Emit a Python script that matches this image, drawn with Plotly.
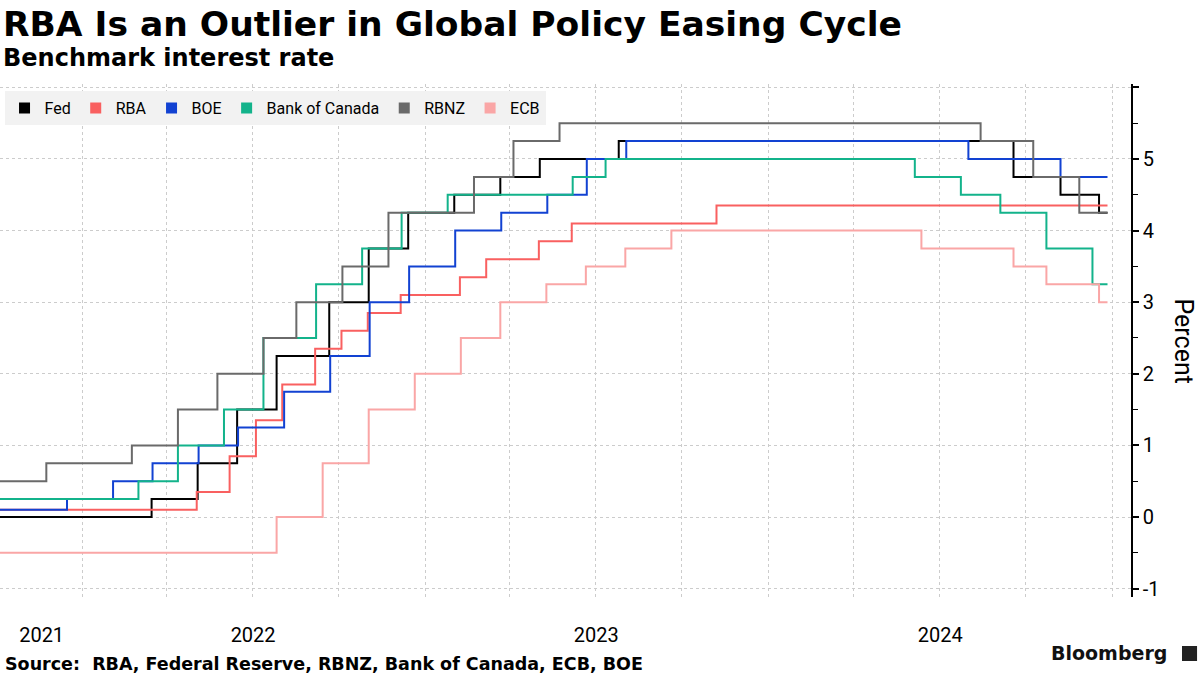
import plotly.graph_objects as go

# ---- Data: policy-rate change dates and levels ----
start_date = "2021-10-01"
end_date = "2024-12-27"

fed_dates = [start_date, "2022-03-16", "2022-05-04", "2022-06-15", "2022-07-27", "2022-09-21",
             "2022-11-02", "2022-12-14", "2023-02-01", "2023-03-22", "2023-05-03", "2023-07-26",
             "2024-09-18", "2024-11-07", "2024-12-18"]
fed_vals = [0.0, 0.25, 0.75, 1.5, 2.25, 3.0, 3.75, 4.25, 4.5, 4.75, 5.0, 5.25, 4.75, 4.5, 4.25]

rba_dates = [start_date, "2022-05-03", "2022-06-07", "2022-07-05", "2022-08-02", "2022-09-06",
             "2022-10-04", "2022-11-01", "2022-12-06", "2023-02-07", "2023-03-07", "2023-05-02",
             "2023-06-06", "2023-11-07"]
rba_vals = [0.1, 0.35, 0.85, 1.35, 1.85, 2.35, 2.6, 2.85, 3.1, 3.35, 3.6, 3.85, 4.1, 4.35]

boe_dates = [start_date, "2021-12-16", "2022-02-03", "2022-03-17", "2022-05-05", "2022-06-16",
             "2022-08-04", "2022-09-22", "2022-11-03", "2022-12-15", "2023-02-02", "2023-03-23",
             "2023-05-11", "2023-06-22", "2023-08-03", "2024-08-01", "2024-11-07"]
boe_vals = [0.1, 0.25, 0.5, 0.75, 1.0, 1.25, 1.75, 2.25, 3.0, 3.5, 4.0, 4.25, 4.5, 5.0, 5.25, 5.0, 4.75]

boc_dates = [start_date, "2022-03-02", "2022-04-13", "2022-06-01", "2022-07-13", "2022-09-07",
             "2022-10-26", "2022-12-07", "2023-01-25", "2023-06-07", "2023-07-12", "2024-06-05",
             "2024-07-24", "2024-09-04", "2024-10-23", "2024-12-11"]
boc_vals = [0.25, 0.5, 1.0, 1.5, 2.5, 3.25, 3.75, 4.25, 4.5, 4.75, 5.0, 4.75, 4.5, 4.25, 3.75, 3.25]

rbnz_dates = [start_date, "2021-11-24", "2022-02-23", "2022-04-13", "2022-05-25", "2022-07-13",
              "2022-08-17", "2022-10-05", "2022-11-23", "2023-02-22", "2023-04-05", "2023-05-24",
              "2024-08-14", "2024-10-09", "2024-11-27"]
rbnz_vals = [0.5, 0.75, 1.0, 1.5, 2.0, 2.5, 3.0, 3.5, 4.25, 4.75, 5.25, 5.5, 5.25, 4.75, 4.25]

ecb_dates = [start_date, "2022-07-27", "2022-09-14", "2022-11-02", "2022-12-21", "2023-02-08",
             "2023-03-22", "2023-05-10", "2023-06-21", "2023-08-02", "2023-09-20", "2024-06-12",
             "2024-09-18", "2024-10-23", "2024-12-18"]
ecb_vals = [-0.5, 0.0, 0.75, 1.5, 2.0, 2.5, 3.0, 3.25, 3.5, 3.75, 4.0, 3.75, 3.5, 3.25, 3.0]

series = [
    ("Fed", fed_dates, fed_vals, "#000000"),
    ("RBA", rba_dates, rba_vals, "#f96060"),
    ("BOE", boe_dates, boe_vals, "#1242d2"),
    ("Bank of Canada", boc_dates, boc_vals, "#13b38b"),
    ("RBNZ", rbnz_dates, rbnz_vals, "#6a6a6a"),
    ("ECB", ecb_dates, ecb_vals, "#faa6a6"),
]

year_tick_vals = ["2021-11-19", "2022-07-02", "2023-07-02", "2024-07-02"]
year_tick_text = ["2021", "2022", "2023", "2024"]
y_tick_vals = [-1, 0, 1, 2, 3, 4, 5, 6]
y_tick_text = ["-1", "0", "1", "2", "3", "4", "5", ""]
y_minor_vals = [-0.5, 0.5, 1.5, 2.5, 3.5, 4.5, 5.5]

REG = "Roboto, DejaVu Sans, sans-serif"
BOLD = "DejaVu Sans, sans-serif"

fig = go.Figure()
for name, d, v, c in series:
    fig.add_trace(go.Scatter(
        x=d + [end_date], y=v + [v[-1]], mode="lines", name=name,
        line=dict(color=c, width=2, shape="hv"), showlegend=False,
        hoverinfo="skip"))
# legend entries with square swatches
for name, d, v, c in series:
    fig.add_trace(go.Scatter(
        x=[None], y=[None], mode="markers", name=name,
        marker=dict(symbol="square", size=11, color=c), showlegend=True))

grid_col = "#cccccc"
fig.update_layout(
    width=1200, height=675,
    margin=dict(l=0, r=69, t=84, b=78),
    paper_bgcolor="white", plot_bgcolor="white",
    font=dict(family=REG, size=20, color="black"),
    showlegend=True,
    legend=dict(orientation="h", x=0.004, y=0.986, xanchor="left", yanchor="top",
                bgcolor="#f2f2f2", font=dict(family=REG, size=16, color="black"),
                itemwidth=30, tracegroupgap=0, itemclick=False, itemdoubleclick=False),
    xaxis=dict(
        type="date", range=["2021-10-05 17:00", "2025-01-21"],
        tickvals=year_tick_vals, ticktext=year_tick_text,
        showgrid=False, ticks="", showline=False, zeroline=False,
        tickfont=dict(family=REG, size=20, color="black"),
        ticklabelstandoff=24,
        minor=dict(dtick="M3", tick0="2022-01-01", showgrid=True, gridcolor=grid_col,
                   griddash="3px,3px", gridwidth=1, ticks=""),
    ),
    yaxis=dict(
        side="right", range=[-1.117, 6.047],
        tickvals=y_tick_vals, ticktext=y_tick_text,
        showgrid=True, gridcolor=grid_col, griddash="3px,3px", gridwidth=1,
        zeroline=False, showline=True, linecolor="black", linewidth=1.5,
        ticks="outside", ticklen=6, tickwidth=1.5, tickcolor="black",
        tickfont=dict(family=REG, size=20, color="black"),
        minor=dict(tickvals=y_minor_vals, ticks="outside",
                   ticklen=5, tickcolor="black", tickwidth=1, showgrid=False),
    ),
    annotations=[
        dict(text="<b>RBA Is an Outlier in Global Policy Easing Cycle</b>", xref="paper", yref="paper",
             x=0, y=1.116, xanchor="left", yanchor="middle", xshift=1, showarrow=False,
             font=dict(family=BOLD, size=34.5, color="black")),
        dict(text="<b>Benchmark interest rate</b>", xref="paper", yref="paper",
             x=0, y=1.050, xanchor="left", yanchor="middle", xshift=1, showarrow=False,
             font=dict(family=BOLD, size=24, color="black")),
        dict(text="<b>Source:\u00a0 RBA, Federal Reserve, RBNZ, Bank of Canada, ECB, BOE</b>",
             xref="paper", yref="paper", x=0, y=-0.130, xanchor="left", yanchor="middle",
             xshift=3, showarrow=False, font=dict(family=BOLD, size=17.5, color="black")),
        dict(text="Percent", xref="paper", yref="paper", x=1, y=0.5, xanchor="center",
             yanchor="middle", xshift=52, textangle=90, showarrow=False,
             font=dict(family=REG, size=25, color="black")),
        dict(text="<b>Bloomberg</b>", xref="paper", yref="paper", x=1, y=-0.109,
             xanchor="right", yanchor="middle", xshift=38, showarrow=False,
             font=dict(family=BOLD, size=19, color="#111111")),
    ],
    shapes=[
        dict(type="rect", xref="paper", yref="paper", x0=1.0451, x1=1.0584, y0=-0.1248, y1=-0.0955,
             fillcolor="#222222", line=dict(width=0)),
    ],
)

fig.write_html("out.html", config={"displayModeBar": False},
               post_script="document.body.style.margin='0';")
